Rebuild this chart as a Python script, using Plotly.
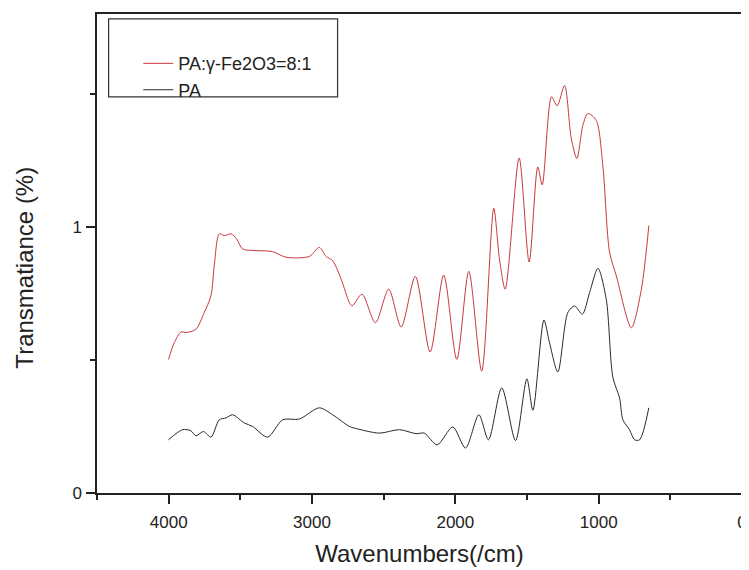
import plotly.graph_objects as go

# wavenumber (cm-1) and transmittance
pa_fe_x = [4001, 3961, 3914, 3879, 3810, 3752, 3705, 3682, 3647, 3612, 3565, 3526,
           3484, 3391, 3275, 3181, 3019, 2949, 2902, 2856, 2797, 2739, 2720, 2651,
           2558, 2465, 2378, 2279, 2176, 2081, 1990, 1906, 1816, 1732, 1692, 1652,
           1555, 1485, 1425, 1394, 1329, 1290, 1238, 1191, 1152, 1110, 1075, 1017,
           971, 924, 877, 772, 702, 650]
pa_fe_y = [0.502, 0.565, 0.605, 0.603, 0.615, 0.678, 0.741, 0.854, 0.974, 0.967, 0.974, 0.955,
           0.917, 0.911, 0.907, 0.886, 0.889, 0.923, 0.889, 0.873, 0.804, 0.715, 0.703, 0.747,
           0.640, 0.766, 0.624, 0.814, 0.530, 0.819, 0.502, 0.833, 0.458, 1.070, 0.879, 0.766,
           1.259, 0.868, 1.225, 1.158, 1.489, 1.455, 1.531, 1.332, 1.257, 1.382, 1.426, 1.400,
           1.231, 0.905, 0.816, 0.621, 0.766, 1.005]

pa_x = [4001, 3903, 3845, 3810, 3757, 3705, 3647, 3600, 3554, 3472, 3414, 3310,
        3205, 3088, 2949, 2856, 2739, 2704, 2530, 2390, 2274, 2216, 2127, 2018,
        1929, 1836, 1769, 1676, 1580, 1501, 1459, 1382, 1343, 1285, 1215, 1168,
        1114, 1063, 1005, 947, 901, 854, 831, 785, 749, 714, 650]
pa_y = [0.200, 0.238, 0.234, 0.215, 0.231, 0.210, 0.275, 0.282, 0.294, 0.263, 0.250, 0.210,
        0.275, 0.278, 0.320, 0.294, 0.250, 0.244, 0.225, 0.238, 0.223, 0.225, 0.181, 0.248,
        0.169, 0.294, 0.200, 0.395, 0.197, 0.429, 0.311, 0.650, 0.565, 0.455, 0.678, 0.703,
        0.672, 0.754, 0.844, 0.728, 0.435, 0.357, 0.275, 0.238, 0.200, 0.200, 0.320]

font = "Arial, Liberation Sans, sans-serif"

fig = go.Figure()
fig.add_trace(go.Scatter(x=pa_fe_x, y=pa_fe_y, mode="lines", name="PA:γ-Fe2O3=8:1",
                         line=dict(color="#c8383c", width=1, shape="spline", smoothing=0.8)))
fig.add_trace(go.Scatter(x=pa_x, y=pa_y, mode="lines", name="PA",
                         line=dict(color="#2a2a2a", width=1, shape="spline", smoothing=0.8)))

# legend frame
fig.add_shape(type="rect", xref="paper", yref="paper", x0=0.018, x1=0.373, y0=0.827, y1=0.99,
              line=dict(color="#333333", width=1.2), fillcolor="rgba(0,0,0,0)")

# y title placed by hand (sits a bit below the axis centre in the original)
fig.add_annotation(text="Transmatiance (%)", xref="paper", yref="paper", x=-0.112, y=0.47,
                   xanchor="center", yanchor="middle",
                   textangle=-90, showarrow=False, font=dict(size=24, color="#222222"))

# page body has an 8px default margin, so the margins are shifted to compensate
fig.update_layout(
    width=749, height=570,
    margin=dict(l=89, r=15, t=6, b=85),
    plot_bgcolor="white", paper_bgcolor="white",
    font=dict(family=font, color="#222222", size=16),
    showlegend=True,
    legend=dict(x=0.064, y=0.935, xanchor="left", yanchor="top", bgcolor="rgba(0,0,0,0)",
                font=dict(size=18, color="#222222"), tracegroupgap=0, itemwidth=30),
)
fig.update_xaxes(
    range=[4500, 0], tickvals=[4000, 3000, 2000, 1000, 0], automargin=False,
    ticks="outside", ticklen=9, tickwidth=1.5, tickcolor="#222222",
    minor=dict(dtick=500, ticks="outside", ticklen=5, tickwidth=1.5, tickcolor="#222222"),
    showline=True, linecolor="#222222", linewidth=1.5, mirror=True,
    showgrid=False, zeroline=False, ticklabelstandoff=4,
    tickfont=dict(size=17),
    title=dict(text="Wavenumbers(/cm)", font=dict(size=24), standoff=14),
)
fig.update_yaxes(
    range=[0, 1.8], tickvals=[0, 1], automargin=False,
    ticks="outside", ticklen=9, tickwidth=1.5, tickcolor="#222222",
    minor=dict(dtick=0.5, ticks="outside", ticklen=5, tickwidth=1.5, tickcolor="#222222"),
    showline=True, linecolor="#222222", linewidth=1.5, mirror=True,
    showgrid=False, zeroline=False, ticklabelstandoff=1,
    tickfont=dict(size=17),
)

fig.write_html("out.html")
